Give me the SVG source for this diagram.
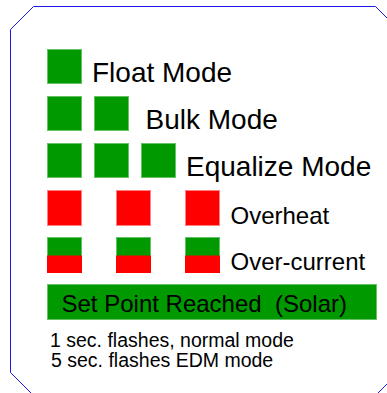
<svg xmlns="http://www.w3.org/2000/svg" width="387" height="393" viewBox="0 0 387 393">
<style>
.g{fill:#009900;stroke:#66c266;stroke-width:1}
.r{fill:#ff0000;stroke:#ff8080;stroke-width:1}
.rf{fill:#ff0000}
.t{font-family:"Liberation Sans",Arial,sans-serif;fill:#000}
</style>
<rect width="387" height="393" fill="#ffffff"/>
<g id="frame">
<polygon points="33.5,6.5 375.5,6.5 398.5,29.5 398.5,372.5 375.5,395.5 33.5,395.5 10.5,372.5 10.5,29.5" fill="none" stroke="#1a1aee" stroke-width="1"/>
</g>
<g id="float">
<rect class="g" x="47.5" y="49.5" width="34" height="34"/>
<text class="t" x="92" y="82" font-size="28">Float Mode</text>
</g>
<g id="bulk">
<rect class="g" x="47.5" y="96.5" width="34" height="34"/>
<rect class="g" x="94.5" y="96.5" width="34" height="34"/>
<text class="t" x="145.5" y="129" font-size="28">Bulk Mode</text>
</g>
<g id="equalize">
<rect class="g" x="47.5" y="143.5" width="34" height="34"/>
<rect class="g" x="94.5" y="143.5" width="34" height="34"/>
<rect class="g" x="141.5" y="143.5" width="34" height="34"/>
<text class="t" x="186" y="176" font-size="28">Equalize Mode</text>
</g>
<g id="overheat">
<rect class="r" x="47.5" y="190.5" width="34" height="35"/>
<rect class="r" x="116.5" y="190.5" width="34" height="35"/>
<rect class="r" x="185.5" y="190.5" width="34" height="35"/>
<text class="t" x="230.5" y="223.5" font-size="24">Overheat</text>
</g>
<g id="overcurrent">
<rect class="g" x="47.5" y="237.5" width="34" height="34"/>
<rect class="rf" x="47" y="255.5" width="35" height="17.5"/>
<rect class="g" x="116.5" y="237.5" width="34" height="34"/>
<rect class="rf" x="116" y="255.5" width="35" height="17.5"/>
<rect class="g" x="185.5" y="237.5" width="34" height="34"/>
<rect class="rf" x="185" y="255.5" width="35" height="17.5"/>
<text class="t" x="230.5" y="270" font-size="24">Over-current</text>
</g>
<g id="setpoint">
<rect class="g" x="47.5" y="284.5" width="329" height="35"/>
<text class="t" x="61.5" y="311.5" font-size="24" xml:space="preserve">Set Point Reached  (Solar)</text>
</g>
<g id="notes">
<text class="t" x="50" y="346.7" font-size="19.5">1 sec. flashes, normal mode</text>
<text class="t" x="51" y="366.7" font-size="19.5">5 sec. flashes EDM mode</text>
</g>
</svg>
